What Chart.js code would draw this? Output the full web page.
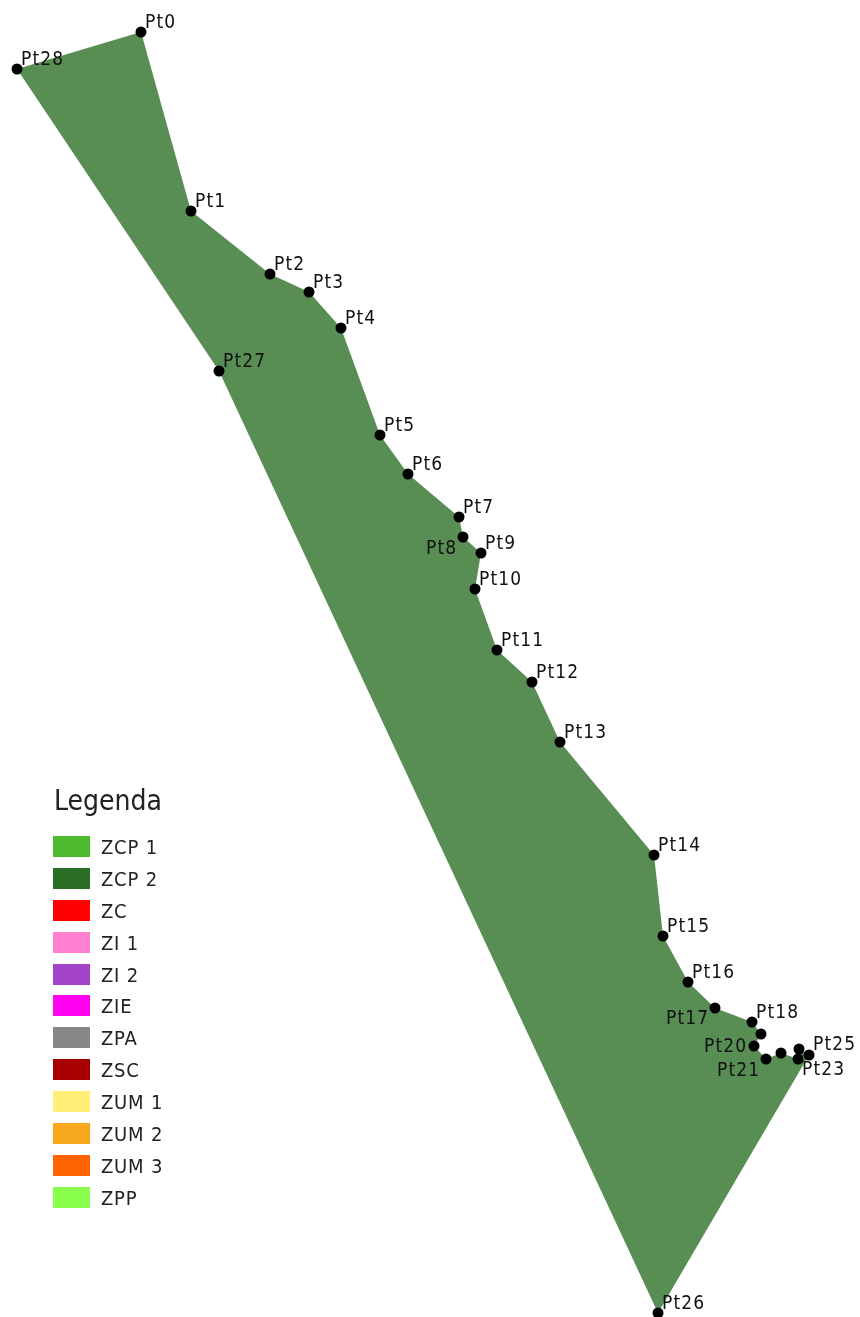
<!DOCTYPE html>
<html>
<head>
<meta charset="utf-8">
<title>Legenda</title>
<script src="https://cdn.jsdelivr.net/npm/chart.js@4/dist/chart.umd.min.js"></script>
<style>
  html, body { margin: 0; padding: 0; background: #fff; }
  #wrap { position: relative; width: 860px; height: 1317px; overflow: hidden; }
  canvas { display: block; }
  #legend { position: absolute; left: 53px; top: 785px; font-family: "DejaVu Sans Condensed", "DejaVu Sans", sans-serif; font-stretch: condensed; color: #222; }
  #legend h3 { margin: 0 0 19px 1px; font-size: 28px; line-height: 32px; font-weight: normal; }
  #legend div { height: 31.9px; position: relative; font-size: 20px; line-height: 22px; letter-spacing: 0.8px; }
  #legend i { position: absolute; left: 0; top: 0; width: 37px; height: 21px; }
  #legend span { position: absolute; left: 48px; top: 0; white-space: nowrap; }
</style>
</head>
<body>
<div id="wrap">
  <canvas id="myChart" width="860" height="1317"></canvas>
  <div id="legend"><h3>Legenda</h3></div>
</div>
<script>
const pointNames = ['Pt0','Pt1','Pt2','Pt3','Pt4','Pt5','Pt6','Pt7','Pt8','Pt9','Pt10','Pt11','Pt12','Pt13','Pt14',
  'Pt15','Pt16','Pt17','Pt18','Pt19','Pt20','Pt21','Pt22','Pt23','Pt24','Pt25','Pt26','Pt27','Pt28']
const pointX = [141,191,270,309,341,380,408,459,463,481,475,497,532,560,654,663,688,715,752,761,754,766,781,798,799,809,658,219,17]
const pointY = [32,211,274,292,328,435,474,517,537,553,589,650,682,742,855,936,982,1008,1022,1034,1046,1059,1053,1059,1049,1055,1313,371,69]

const legendNames = ['ZCP 1','ZCP 2','ZC','ZI 1','ZI 2','ZIE','ZPA','ZSC','ZUM 1','ZUM 2','ZUM 3','ZPP']
const legendColors = ['#4dbb2d','#2a6e26','#ff0000','#ff80d0','#a444c8','#ff00f0','#888888','#a80000','#ffee77','#f8a81c','#ff6400','#88ff4c']

// label placement, the map tool moved a few of them by hand
const leftLabels = { Pt8: [-37, 17], Pt17: [-49, 16], Pt20: [-50, 6], Pt21: [-49, 17] }
const hiddenLabels = ['Pt19', 'Pt22', 'Pt24']
const otherLabels = { Pt23: [4, 16], Pt25: [4, -5] }

let legendBox = document.getElementById('legend')
legendNames.forEach((name, i) => {
  let row = document.createElement('div')
  row.innerHTML = '<i style="background:' + legendColors[i] + '"></i><span>' + name + '</span>'
  legendBox.appendChild(row)
})

let points = pointX.map((x, i) => ({ x: x, y: pointY[i] }))

const pointLabels = {
  id: 'pointLabels',
  afterDatasetsDraw(chart) {
    let ctx = chart.ctx
    ctx.save()
    ctx.font = '19px "DejaVu Sans Condensed", "DejaVu Sans"'
    ctx.letterSpacing = '1.1px'
    ctx.fillStyle = '#111'
    ctx.textBaseline = 'alphabetic'
    pointNames.forEach((name, i) => {
      if (hiddenLabels.includes(name)) return
      let off = leftLabels[name] || otherLabels[name] || [4, -4.5]
      ctx.fillText(name, chart.scales.x.getPixelForValue(pointX[i]) + off[0], chart.scales.y.getPixelForValue(pointY[i]) + off[1])
    })
    ctx.restore()
  }
}

Chart.defaults.animation = false

new Chart(document.getElementById('myChart').getContext('2d'), {
  type: 'scatter',
  data: {
    datasets: [{
      data: points,
      showLine: true,
      fill: 'shape',
      backgroundColor: '#588e54',
      borderWidth: 0,
      pointRadius: 5.5,
      pointBackgroundColor: '#000',
      pointBorderWidth: 0,
      clip: false
    }]
  },
  options: {
    responsive: false,
    devicePixelRatio: 1,
    layout: { padding: 0, autoPadding: false },
    plugins: { legend: { display: false }, tooltip: { enabled: false } },
    scales: {
      x: { type: 'linear', min: 0, max: 860, display: false },
      y: { type: 'linear', min: 0, max: 1317, reverse: true, display: false }
    }
  },
  plugins: [pointLabels]
})
</script>
</body>
</html>
